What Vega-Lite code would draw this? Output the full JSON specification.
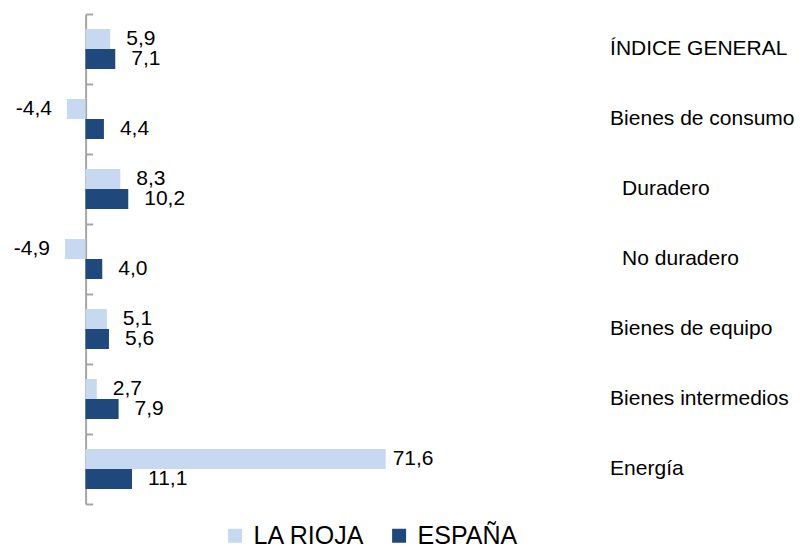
{
  "$schema": "https://vega.github.io/schema/vega-lite/v6.json",
  "autosize": {"type": "none"},
  "padding": {"left": 22.6, "top": 14, "right": 212.4, "bottom": 43},
  "width": 566,
  "height": 490,
  "config": {
    "view": {"stroke": null},
    "font": "Liberation Sans",
    "locale": {"number": {"decimal": ",", "thousands": ".", "grouping": [3], "currency": ["", " €"], "minus": "-"}}
  },
  "data": {
    "values": [
      {"categoria": "ÍNDICE GENERAL", "serie": "LA RIOJA", "valor": 5.9},
      {"categoria": "ÍNDICE GENERAL", "serie": "ESPAÑA", "valor": 7.1},
      {"categoria": "Bienes de consumo", "serie": "LA RIOJA", "valor": -4.4},
      {"categoria": "Bienes de consumo", "serie": "ESPAÑA", "valor": 4.4},
      {"categoria": "Duradero", "serie": "LA RIOJA", "valor": 8.3},
      {"categoria": "Duradero", "serie": "ESPAÑA", "valor": 10.2},
      {"categoria": "No duradero", "serie": "LA RIOJA", "valor": -4.9},
      {"categoria": "No duradero", "serie": "ESPAÑA", "valor": 4.0},
      {"categoria": "Bienes de equipo", "serie": "LA RIOJA", "valor": 5.1},
      {"categoria": "Bienes de equipo", "serie": "ESPAÑA", "valor": 5.6},
      {"categoria": "Bienes intermedios", "serie": "LA RIOJA", "valor": 2.7},
      {"categoria": "Bienes intermedios", "serie": "ESPAÑA", "valor": 7.9},
      {"categoria": "Energía", "serie": "LA RIOJA", "valor": 71.6},
      {"categoria": "Energía", "serie": "ESPAÑA", "valor": 11.1}
    ]
  },
  "encoding": {
    "y": {
      "field": "categoria", "type": "nominal", "sort": null,
      "scale": {"paddingInner": 0, "paddingOuter": 0}
    },
    "yOffset": {
      "field": "serie", "type": "nominal",
      "sort": ["LA RIOJA", "ESPAÑA"],
      "scale": {"paddingInner": 0, "paddingOuter": 0.75}
    },
    "x": {
      "field": "valor", "type": "quantitative",
      "scale": {"domain": [-15, 120], "nice": false, "zero": false},
      "axis": null
    }
  },
  "layer": [
    {
      "mark": {"type": "bar"},
      "encoding": {
        "color": {
          "field": "serie", "type": "nominal",
          "sort": ["LA RIOJA", "ESPAÑA"],
          "scale": {"domain": ["LA RIOJA", "ESPAÑA"], "range": ["#c6d9f1", "#1f497d"]},
          "legend": {
            "title": null, "orient": "none", "direction": "horizontal",
            "legendX": 200, "legendY": 509,
            "symbolType": "square", "symbolSize": 196, "symbolStrokeWidth": 0,
            "labelFontSize": 25, "labelColor": "#000000", "labelOffset": 6,
            "columnPadding": 21, "labelFont": "Liberation Sans", "labelLimit": 0
          }
        },
        "y": {
          "field": "categoria", "type": "nominal", "sort": null,
          "axis": {
            "orient": "left", "title": null, "labels": false, "offset": -63,
            "tickBand": "extent", "tickSize": -7, "tickWidth": 2, "tickColor": "#a6a6a6",
            "domainColor": "#a6a6a6", "domainWidth": 2
          }
        }
      }
    },
    {
      "transform": [{"filter": "datum.valor >= 0 && datum.valor < 50"}],
      "mark": {"type": "text", "align": "left", "baseline": "middle", "dx": 16, "fontSize": 21, "color": "#000000"},
      "encoding": {
        "text": {"field": "valor", "type": "quantitative", "format": ".1f"},
        "y": {
          "field": "categoria", "type": "nominal", "sort": null,
          "axis": {
            "orient": "right", "title": null, "domain": false, "ticks": false,
            "labelPadding": {"condition": {"test": "datum.value == 'Duradero' || datum.value == 'No duradero'", "value": 33}, "value": 21},
            "labelFontSize": 21, "labelColor": "#000000",
            "labelAlign": "left", "labelFont": "Liberation Sans", "labelLimit": 0
          }
        }
      }
    },
    {
      "transform": [{"filter": "datum.valor >= 50"}],
      "mark": {"type": "text", "align": "left", "baseline": "middle", "dx": 7, "fontSize": 21, "color": "#000000"},
      "encoding": {
        "text": {"field": "valor", "type": "quantitative", "format": ".1f"},
        "y": {"field": "categoria", "type": "nominal", "sort": null, "axis": null}
      }
    },
    {
      "transform": [{"filter": "datum.valor < 0"}],
      "mark": {"type": "text", "align": "right", "baseline": "middle", "dx": -15, "fontSize": 21, "color": "#000000"},
      "encoding": {
        "text": {"field": "valor", "type": "quantitative", "format": ".1f"},
        "y": {"field": "categoria", "type": "nominal", "sort": null, "axis": null}
      }
    }
  ],
  "resolve": {"axis": {"y": "independent"}}
}
